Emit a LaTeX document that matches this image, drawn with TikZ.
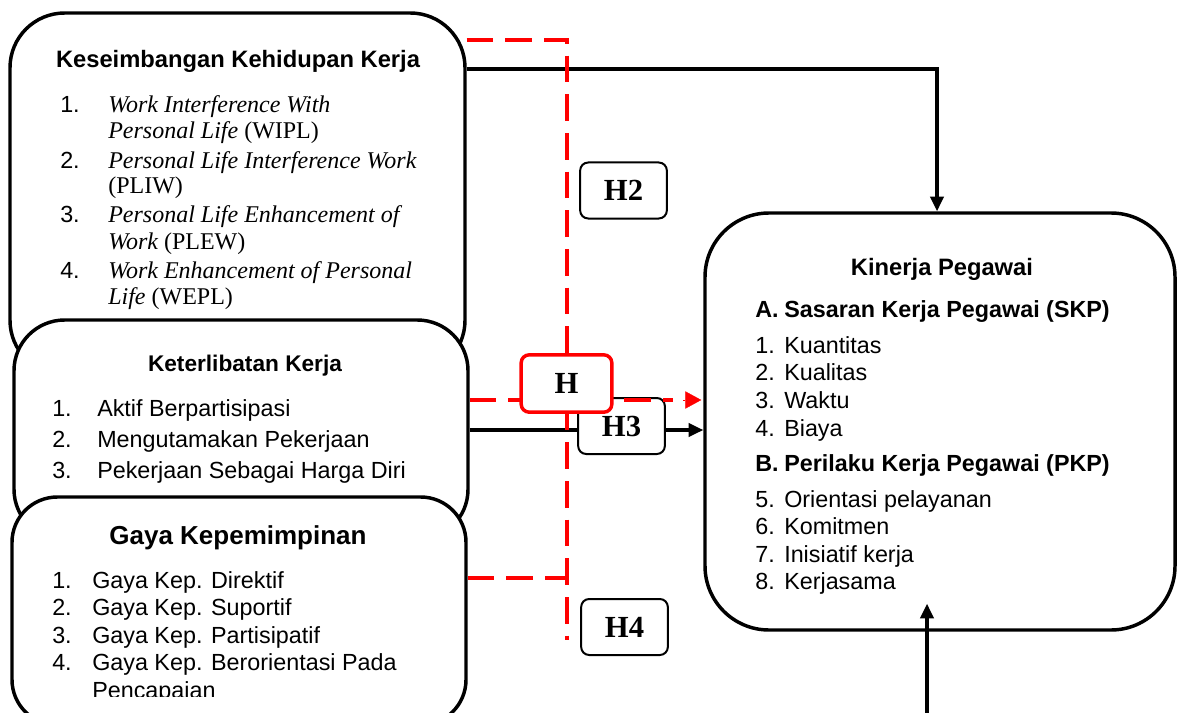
\documentclass[tikz,border=0pt]{standalone}
\usepackage{fontspec}
\setmainfont{Liberation Serif}
\setsansfont{Liberation Sans}
\usetikzlibrary{arrows.meta,calc}
\begin{document}
\begin{tikzpicture}[x=0.75pt,y=-0.75pt,
  box/.style={draw,line width=2.6pt,fill=white,rounded corners=#1,inner sep=0pt},
  hbox/.style={draw,line width=1.5pt,fill=white,rounded corners=6pt,inner sep=0pt,
     minimum width=65pt,minimum height=42pt,font=\bfseries\fontsize{23}{23}\selectfont},
  conn/.style={line width=2.3pt},
  tip/.style={-{Triangle[length=11pt,width=10pt]}},
  reddash/.style={draw=red,line width=2.6pt,dash pattern=on 20pt off 9pt},
  sf/.style={anchor=base west,inner sep=0pt,font=\sffamily\fontsize{17.5}{21}\selectfont},
  sfb/.style={anchor=base west,inner sep=0pt,font=\sffamily\bfseries\fontsize{17.5}{21}\selectfont},
  ttl/.style={anchor=base,inner sep=0pt,font=\sffamily\bfseries\fontsize{#1}{21}\selectfont},
  it/.style={anchor=base west,inner sep=0pt,font=\fontsize{18}{21}\selectfont}]
\useasboundingbox (0,0) rectangle (1177,713);
\begin{scope}
\clip (0,0) rectangle (1177,713);
% boxes
\node[box=41pt,minimum width=341.25pt,minimum height=271.5pt] (wlb) at (237.5,194) {};
\node[box=38pt,minimum width=340.5pt,minimum height=165pt] (ket) at (241,430) {};
\node[box=34pt,minimum width=340.5pt,minimum height=171pt] (gaya) at (239,611) {};
\node[box=48pt,minimum width=352.5pt,minimum height=312.75pt] (kin) at (940,421.5) {};
\end{scope}

% box 1 text
\node[ttl=17.8] (wlbt) at (238,68) {Keseimbangan Kehidupan Kerja};
\node[sf] (w1n) at (60,113) {1.};
\node[it] (w1a) at (108,113) {\itshape Work Interference With};
\node[it] (w1b) at (108,139) {\itshape Personal Life\upshape\ (WIPL)};
\node[sf] (w2n) at (60,168) {2.};
\node[it] (w2a) at (108,168) {\itshape Personal Life Interference Work};
\node[it] (w2b) at (108,194) {(PLIW)};
\node[sf] (w3n) at (60,222) {3.};
\node[it] (w3a) at (108,222) {\itshape Personal Life Enhancement of};
\node[it] (w3b) at (108,249) {\itshape Work\upshape\ (PLEW)};
\node[sf] (w4n) at (60,278) {4.};
\node[it] (w4a) at (108,278) {\itshape Work Enhancement of Personal};
\node[it] (w4b) at (108,304) {\itshape Life\upshape\ (WEPL)};

% box 2 text
\node[ttl=17] (kett) at (245,371) {Keterlibatan Kerja};
\node[sf] (k1n) at (52,416) {1.};
\node[sf] (k1) at (97,416) {Aktif Berpartisipasi};
\node[sf] (k2n) at (52,447) {2.};
\node[sf] (k2) at (97,447) {Mengutamakan Pekerjaan};
\node[sf] (k3n) at (52,478) {3.};
\node[sf] (k3) at (97,478) {Pekerjaan Sebagai Harga Diri};

% box 3 text
\node[ttl=19.5] (gayat) at (238,544) {Gaya Kepemimpinan};
\node[sf] (g1n) at (52,588) {1.};
\node[sf] (g1) at (92,588) {Gaya Kep. Direktif};
\node[sf] (g2n) at (52,615) {2.};
\node[sf] (g2) at (92,615) {Gaya Kep. Suportif};
\node[sf] (g3n) at (52,643) {3.};
\node[sf] (g3) at (92,643) {Gaya Kep. Partisipatif};
\node[sf] (g4n) at (52,670) {4.};
\node[sf] (g4) at (92,670) {Gaya Kep. Berorientasi Pada};
\begin{scope}
\clip (0,0) rectangle (1177,696);
\node[sf] (g4b) at (92,698) {Pencapaian};
\end{scope}

% kinerja text
\node[ttl=17.8] (kint) at (942,275) {Kinerja Pegawai};
\node[sfb] (an) at (755,317) {A.};
\node[sfb] (a) at (784,317) {Sasaran Kerja Pegawai (SKP)};
\node[sf] (i1n) at (755,353) {1.};
\node[sf] (i1) at (784,353) {Kuantitas};
\node[sf] (i2n) at (755,380) {2.};
\node[sf] (i2) at (784,380) {Kualitas};
\node[sf] (i3n) at (755,408) {3.};
\node[sf] (i3) at (784,408) {Waktu};
\node[sf] (i4n) at (755,436) {4.};
\node[sf] (i4) at (784,436) {Biaya};
\node[sfb] (bn) at (755,471) {B.};
\node[sfb] (b) at (784,471) {Perilaku Kerja Pegawai (PKP)};
\node[sf] (i5n) at (755,507) {5.};
\node[sf] (i5) at (784,507) {Orientasi pelayanan};
\node[sf] (i6n) at (755,534) {6.};
\node[sf] (i6) at (784,534) {Komitmen};
\node[sf] (i7n) at (755,562) {7.};
\node[sf] (i7) at (784,562) {Inisiatif kerja};
\node[sf] (i8n) at (755,589) {8.};
\node[sf] (i8) at (784,589) {Kerjasama};

% black connectors
\coordinate (src) at (927,713);
\coordinate (vx) at (567,640);
\draw[conn,tip] (wlb.east |- 0,69) -| ($(kin.north)+(-3,0)$);
\draw[conn,tip] (ket.east |- 0,430) -- (kin.west |- 0,430);
\draw[conn,tip] (src) -- ($(kin.south -| src)+(0,-28)$);

% hypothesis boxes
\node[hbox] (h2) at (623.5,190.5) {H2};
\node[hbox] (h3) at (621.5,426) {H3};
\node[hbox] (h4) at (624.5,627) {H4};

% red dashed connectors
\draw[reddash] (wlb.east |- 0,40) -| (vx);
\draw[reddash] (gaya.east |- 0,578) -- (vx |- 0,578);
\draw[reddash] (ket.east |- 0,400) -- ($(kin.west |- 0,400)+(-30,0)$);
\draw[red,line width=0.2pt,-{Triangle[length=12pt,width=13pt]}] ($(kin.west |- 0,400)+(-20,0)$) -- ($(kin.west |- 0,400)+(-2,0)$);

\node[hbox,draw=red,line width=2.6pt,minimum width=68pt,minimum height=43pt] (h) at (566.5,383.5) {H};
\end{tikzpicture}
\end{document}
